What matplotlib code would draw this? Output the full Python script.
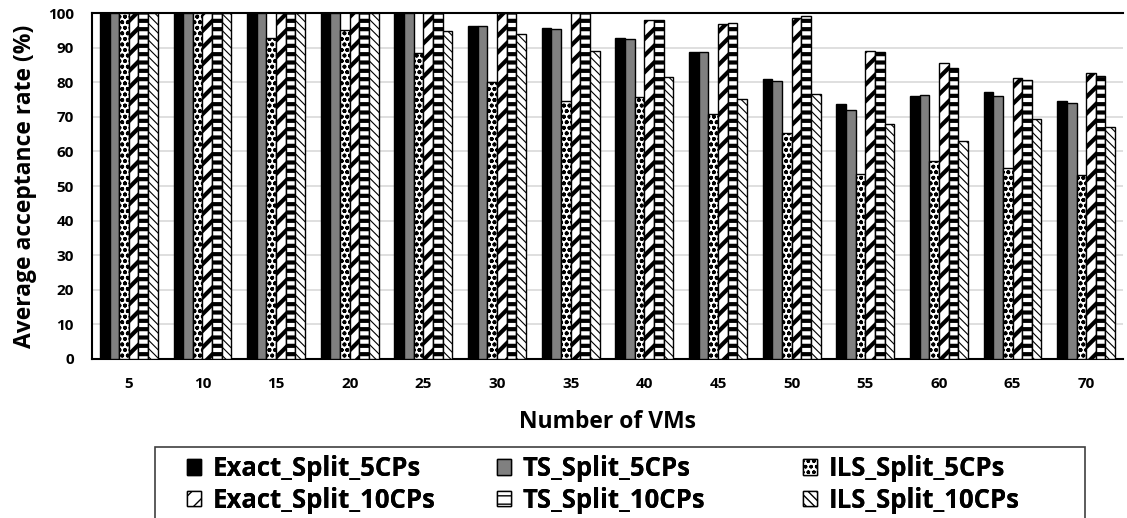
import matplotlib.pyplot as plt
from matplotlib.patches import Rectangle
import numpy as np

plt.rcParams['font.family'] = ['Open Sans', 'DejaVu Sans']
plt.rcParams['font.weight'] = 'bold'

vms = [5, 10, 15, 20, 25, 30, 35, 40, 45, 50, 55, 60, 65, 70]
exact_5 = [100, 100, 100, 100, 100, 96.1, 95.8, 92.9, 88.6, 81.0, 73.8, 76.0, 77.2, 74.7]
ts_5 = [100, 100, 100, 100, 100, 96.1, 95.5, 92.4, 88.6, 80.3, 72.1, 76.4, 76.0, 74.0]
ils_5 = [100, 100, 92.7, 95.1, 88.4, 80.0, 74.5, 75.6, 70.8, 65.3, 53.5, 57.3, 55.3, 53.1]
exact_10 = [100, 100, 100, 100, 100, 100, 100, 98.0, 96.7, 98.5, 89.0, 85.5, 81.2, 82.8]
ts_10 = [100, 100, 100, 100, 100, 100, 100, 98.0, 97.0, 99.0, 88.8, 84.1, 80.7, 81.7]
ils_10 = [100, 100, 100, 100, 94.9, 93.9, 89.0, 81.5, 75.1, 76.5, 68.0, 63.0, 69.4, 67.0]

series = [
    ('Exact_Split_5CPs', exact_5, 'black', None, 1.0),
    ('TS_Split_5CPs', ts_5, '#808080', None, 1.0),
    ('ILS_Split_5CPs', ils_5, 'white', 'ooo', 1.2),
    ('Exact_Split_10CPs', exact_10, 'white', '//', 3.0),
    ('TS_Split_10CPs', ts_10, 'white', '--', 3.0),
    ('ILS_Split_10CPs', ils_10, 'white', '\\\\\\\\', 0.8),
]

W, H = 1127, 518
fig = plt.figure(figsize=(W / 100, H / 100), dpi=100)
ax = fig.add_axes([92 / W, (H - 359) / H, 1031 / W, 346 / H])

x = np.arange(len(vms))
w = 0.131
for i, (name, vals, fc, hatch, hlw) in enumerate(series):
    with plt.rc_context({'hatch.linewidth': hlw}):
        ax.bar(x + (i - 2.5) * w, vals, w, color=fc, edgecolor='black',
               linewidth=1.0, hatch=hatch, label=name, zorder=3)

ax.set_xlim(-0.5, len(vms) - 0.5)
ax.set_ylim(0, 100)
ax.set_yticks(range(0, 101, 10))
ax.set_xticks(x)
ax.set_xticklabels(vms)
ax.tick_params(axis='both', length=0, labelsize=11)
ax.tick_params(axis='y', pad=13)
ax.tick_params(axis='x', pad=13)
ax.yaxis.grid(True, color='#d9d9d9', linewidth=1.2, zorder=0)
ax.spines['right'].set_visible(False)
for s in ['left', 'bottom', 'top']:
    ax.spines[s].set_linewidth(1.5)
ax.set_xlabel('Number of VMs', fontsize=16.5, fontweight='bold', labelpad=14)
ax.set_ylabel('Average acceptance rate (%)', fontsize=16.5, fontweight='bold', labelpad=8)

# legend: three columns of equal width inside one box
handles, labels = ax.get_legend_handles_labels()
col_x = [187, 497, 803]
for c in range(3):
    lg = fig.legend([handles[c], handles[c + 3]], [labels[c], labels[c + 3]],
                    loc='upper left', bbox_to_anchor=(col_x[c] / W, (H - 455) / H),
                    ncol=1, fontsize=18.5, frameon=False,
                    handlelength=0.55, handleheight=0.55, handletextpad=0.45,
                    borderpad=0, labelspacing=0.18, borderaxespad=0)
    fig.add_artist(lg)
fig.patches.append(Rectangle((155 / W, -0.05), 930 / W, (H - 447) / H + 0.05,
                             transform=fig.transFigure, fill=False,
                             edgecolor='#404040', linewidth=1.2))

plt.savefig('out.png', dpi=100)
